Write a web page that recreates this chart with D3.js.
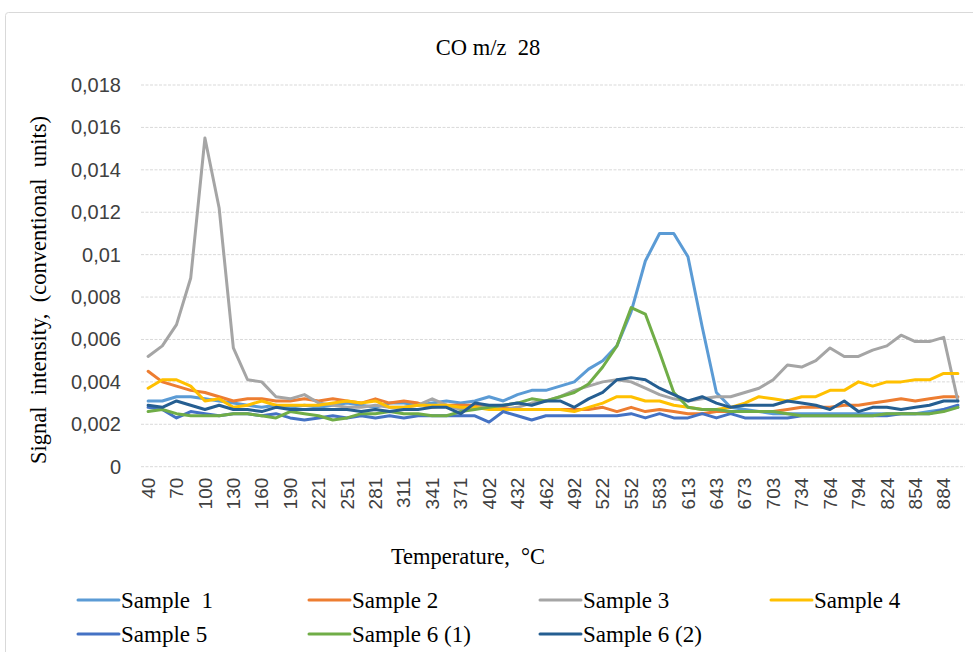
<!DOCTYPE html>
<html>
<head>
<meta charset="utf-8">
<script src="https://cdn.jsdelivr.net/npm/d3@7"></script>
<style>
  body { margin: 0; background: #fff; }
  svg text { white-space: pre; }
</style>
</head>
<body>
<div id="chart"></div>
<script>
// ===== DATA =====
const temps = [40, 55, 70, 85, 100, 115, 130, 145, 160, 175, 190, 206, 221, 236, 251, 266, 281, 296, 311, 326,
    341, 356, 371, 387, 402, 417, 432, 447, 462, 477, 492, 507, 522, 537, 552, 568, 583, 598, 613, 628,
    643, 658, 673, 688, 703, 719, 734, 749, 764, 779, 794, 809, 824, 839, 854, 869, 884, 899];

const sample1 = [0.0031, 0.0031, 0.0033, 0.0033, 0.0032, 0.0031, 0.0030, 0.0029, 0.0028, 0.0029,
    0.0028, 0.0029, 0.0028, 0.0029, 0.0030, 0.0029, 0.0028, 0.0030, 0.0030, 0.0029,
    0.0030, 0.0031, 0.0030, 0.0031, 0.0033, 0.0031, 0.0034, 0.0036, 0.0036, 0.0038,
    0.0040, 0.0046, 0.0050, 0.0057, 0.0073, 0.0097, 0.0110, 0.0110, 0.0099, 0.0066,
    0.0035, 0.0028, 0.0027, 0.0026, 0.0025, 0.0025, 0.0025, 0.0025, 0.0025, 0.0025,
    0.0025, 0.0025, 0.0025, 0.0025, 0.0025, 0.0026, 0.0027, 0.0028];

const sample2 = [0.0045, 0.0040, 0.0038, 0.0036, 0.0035, 0.0033, 0.0031, 0.0032, 0.0032, 0.0031,
    0.0031, 0.0032, 0.0031, 0.0032, 0.0031, 0.0030, 0.0032, 0.0030, 0.0031, 0.0030,
    0.0028, 0.0029, 0.0029, 0.0029, 0.0028, 0.0028, 0.0027, 0.0027, 0.0027, 0.0027,
    0.0027, 0.0027, 0.0028, 0.0026, 0.0028, 0.0026, 0.0027, 0.0026, 0.0025, 0.0025,
    0.0026, 0.0026, 0.0026, 0.0026, 0.0026, 0.0027, 0.0028, 0.0028, 0.0028, 0.0029,
    0.0029, 0.0030, 0.0031, 0.0032, 0.0031, 0.0032, 0.0033, 0.0033];

const sample3 = [0.0052, 0.0057, 0.0067, 0.0089, 0.0155, 0.0122, 0.0056, 0.0041, 0.0040, 0.0033,
    0.0032, 0.0034, 0.0030, 0.0029, 0.0028, 0.0028, 0.0029, 0.0028, 0.0028, 0.0029,
    0.0032, 0.0029, 0.0027, 0.0028, 0.0028, 0.0027, 0.0028, 0.0030, 0.0031, 0.0033,
    0.0036, 0.0038, 0.0040, 0.0041, 0.0040, 0.0037, 0.0034, 0.0032, 0.0031, 0.0032,
    0.0033, 0.0033, 0.0035, 0.0037, 0.0041, 0.0048, 0.0047, 0.0050, 0.0056, 0.0052,
    0.0052, 0.0055, 0.0057, 0.0062, 0.0059, 0.0059, 0.0061, 0.0031];

const sample4 = [0.0037, 0.0041, 0.0041, 0.0038, 0.0031, 0.0032, 0.0028, 0.0029, 0.0031, 0.0029,
    0.0029, 0.0029, 0.0029, 0.0030, 0.0031, 0.0030, 0.0031, 0.0028, 0.0028, 0.0029,
    0.0029, 0.0029, 0.0028, 0.0028, 0.0027, 0.0027, 0.0027, 0.0027, 0.0027, 0.0027,
    0.0026, 0.0028, 0.0030, 0.0033, 0.0033, 0.0031, 0.0031, 0.0029, 0.0028, 0.0027,
    0.0027, 0.0028, 0.0030, 0.0033, 0.0032, 0.0031, 0.0033, 0.0033, 0.0036, 0.0036,
    0.0040, 0.0038, 0.0040, 0.0040, 0.0041, 0.0041, 0.0044, 0.0044];

const sample5 = [0.0028, 0.0027, 0.0023, 0.0026, 0.0025, 0.0024, 0.0025, 0.0025, 0.0024, 0.0025,
    0.0023, 0.0022, 0.0023, 0.0024, 0.0023, 0.0024, 0.0023, 0.0024, 0.0023, 0.0024,
    0.0024, 0.0024, 0.0024, 0.0024, 0.0021, 0.0026, 0.0024, 0.0022, 0.0024, 0.0024,
    0.0024, 0.0024, 0.0024, 0.0024, 0.0025, 0.0023, 0.0025, 0.0023, 0.0023, 0.0025,
    0.0023, 0.0025, 0.0023, 0.0023, 0.0023, 0.0023, 0.0024, 0.0024, 0.0024, 0.0024,
    0.0024, 0.0024, 0.0024, 0.0025, 0.0025, 0.0025, 0.0027, 0.0029];

const sample6a = [0.0026, 0.0027, 0.0025, 0.0024, 0.0024, 0.0024, 0.0025, 0.0025, 0.0024, 0.0023,
    0.0026, 0.0025, 0.0024, 0.0022, 0.0023, 0.0025, 0.0025, 0.0026, 0.0025, 0.0025,
    0.0024, 0.0024, 0.0026, 0.0027, 0.0028, 0.0029, 0.0030, 0.0032, 0.0031, 0.0033,
    0.0035, 0.0039, 0.0047, 0.0057, 0.0075, 0.0072, 0.0054, 0.0035, 0.0028, 0.0027,
    0.0027, 0.0026, 0.0026, 0.0026, 0.0026, 0.0025, 0.0024, 0.0024, 0.0024, 0.0024,
    0.0024, 0.0024, 0.0025, 0.0025, 0.0025, 0.0025, 0.0026, 0.0028];

const sample6b = [0.0029, 0.0028, 0.0031, 0.0029, 0.0027, 0.0029, 0.0027, 0.0027, 0.0026, 0.0028,
    0.0027, 0.0027, 0.0027, 0.0027, 0.0027, 0.0026, 0.0027, 0.0026, 0.0027, 0.0027,
    0.0028, 0.0028, 0.0025, 0.0030, 0.0029, 0.0029, 0.0030, 0.0029, 0.0031, 0.0031,
    0.0028, 0.0032, 0.0035, 0.0041, 0.0042, 0.0041, 0.0037, 0.0034, 0.0031, 0.0033,
    0.0030, 0.0028, 0.0029, 0.0029, 0.0029, 0.0031, 0.0030, 0.0029, 0.0027, 0.0031,
    0.0026, 0.0028, 0.0028, 0.0027, 0.0028, 0.0029, 0.0031, 0.0031];

const seriesNames = ['Sample  1', 'Sample 2', 'Sample 3', 'Sample 4', 'Sample 5', 'Sample 6 (1)', 'Sample 6 (2)'];
const seriesValues = [sample1, sample2, sample3, sample4, sample5, sample6a, sample6b];
const seriesColors = ['#5B9BD5', '#ED7D31', '#A5A5A5', '#FFC000', '#4472C4', '#70AD47', '#255E91'];

const yTicks = [0, 0.002, 0.004, 0.006, 0.008, 0.01, 0.012, 0.014, 0.016, 0.018];
const yTickLabels = ['0', '0,002', '0,004', '0,006', '0,008', '0,01', '0,012', '0,014', '0,016', '0,018'];

// ===== CHART =====
const width = 973, height = 652;
const plot = { left: 141, right: 965, top: 85, bottom: 466.7 };
const serif = '"Liberation Serif", "Times New Roman", serif';
const sans = '"Liberation Sans", Arial, sans-serif';

const svg = d3.select('#chart').append('svg')
    .attr('width', width)
    .attr('height', height);

// chart frame (cropped at right / bottom)
svg.append('rect')
    .attr('x', 5.5).attr('y', 12.5)
    .attr('width', 1000).attr('height', 700)
    .attr('rx', 3)
    .attr('fill', '#fff')
    .attr('stroke', '#D9D9D9');

const x = d3.scaleBand()
    .domain(temps)
    .range([plot.left, plot.right]);
const y = d3.scaleLinear()
    .domain([0, 0.018])
    .range([plot.bottom, plot.top]);
const cx = t => x(t) + x.bandwidth() / 2;

// grid lines
svg.append('g')
    .selectAll('line')
    .data(yTicks)
    .enter().append('line')
    .attr('x1', plot.left).attr('x2', plot.right)
    .attr('y1', d => y(d)).attr('y2', d => y(d))
    .attr('stroke', '#D9D9D9')
    .attr('stroke-width', 1)
    .attr('stroke-dasharray', '3,1.5');

// y axis
const yAxis = svg.append('g')
    .attr('transform', `translate(${plot.left},0)`)
    .call(d3.axisLeft(y).tickValues(yTicks).tickSize(0).tickPadding(20)
        .tickFormat((d, i) => yTickLabels[i]));
yAxis.select('.domain').remove();
yAxis.selectAll('text')
    .attr('font-family', sans)
    .attr('font-size', 20)
    .attr('fill', '#404040');

// x axis (every second category labelled)
const xAxis = svg.append('g')
    .attr('transform', `translate(0,${plot.bottom})`)
    .call(d3.axisBottom(x).tickSize(0)
        .tickValues(temps.filter((d, i) => i % 2 === 0)));
xAxis.select('.domain').remove();
xAxis.selectAll('text')
    .attr('font-family', sans)
    .attr('font-size', 19)
    .attr('fill', '#404040')
    .attr('text-anchor', 'end')
    .attr('dy', '0.35em')
    .attr('transform', 'translate(0,11) rotate(-90)')
    .attr('x', 0).attr('y', 0);

// lines
const line = d3.line()
    .x((d, i) => cx(temps[i]))
    .y(d => y(d));

svg.append('g')
    .selectAll('path')
    .data(seriesValues)
    .enter().append('path')
    .attr('d', d => line(d))
    .attr('fill', 'none')
    .attr('stroke', (d, i) => seriesColors[i])
    .attr('stroke-width', 3)
    .attr('stroke-linejoin', 'round')
    .attr('stroke-linecap', 'round');

// title
svg.append('text')
    .attr('x', 488).attr('y', 55)
    .attr('text-anchor', 'middle')
    .attr('font-family', serif)
    .attr('font-size', 22.5)
    .attr('fill', '#000')
    .text('CO m/z  28');

// axis titles
svg.append('text')
    .attr('x', 468).attr('y', 564)
    .attr('text-anchor', 'middle')
    .attr('font-family', serif)
    .attr('font-size', 22.5)
    .text('Temperature,  \u00B0C');

svg.append('text')
    .attr('transform', 'translate(46,290) rotate(-90)')
    .attr('text-anchor', 'middle')
    .attr('font-family', serif)
    .attr('font-size', 22.5)
    .text('Signal  intensity,  (conventional  units)');

// legend
const legend = svg.append('g');
const legendItem = legend.selectAll('g')
    .data(seriesNames)
    .enter().append('g')
    .attr('transform', (d, i) => `translate(${78 + (i % 4) * 231},${i < 4 ? 600 : 634})`);

legendItem.append('line')
    .attr('x1', 0).attr('x2', 41)
    .attr('stroke', (d, i) => seriesColors[i])
    .attr('stroke-width', 3)
    .attr('stroke-linecap', 'round');

legendItem.append('text')
    .attr('x', 43).attr('y', 7.5)
    .attr('font-family', serif)
    .attr('font-size', 23)
    .text(d => d);
</script>
</body>
</html>
